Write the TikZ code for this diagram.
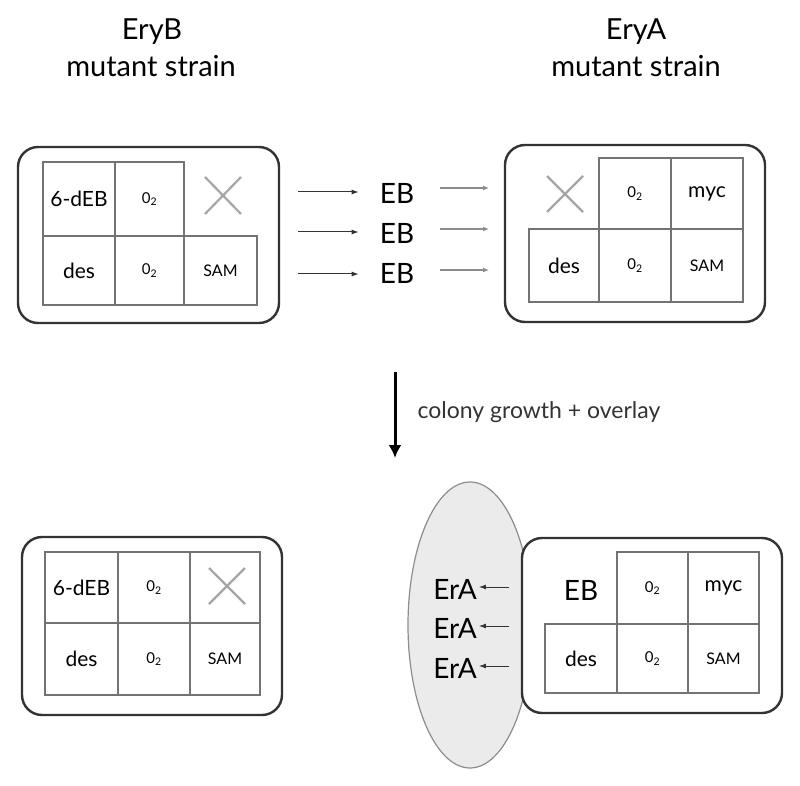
\documentclass[tikz,border=0pt]{standalone}
\usepackage{fontspec}
\setmainfont{Lato}
\usetikzlibrary{arrows.meta,shapes.geometric}
\begin{document}
\begin{tikzpicture}[x=1pt,y=-1pt,
  outer/.style={draw=black!80, line width=2.4pt, rounded corners=20pt, fill=white},
  cell/.style={draw=black!55, line width=1.5pt, inner sep=0pt, align=center},
  title/.style={font=\fontsize{29}{32}\selectfont, anchor=base},
  eb/.style={font=\fontsize{28}{30}\selectfont, inner sep=2pt},
  xmark/.style={draw=black!35, line width=2.2pt},
  arr/.style={draw=black!80, line width=1pt, -{Latex[length=7pt,width=5pt]}},
  garr/.style={draw=black!45, line width=2pt, -{Latex[length=6pt,width=5pt]}},
  down/.style={draw=black, line width=3pt, -{Latex[length=13pt,width=13pt]}},
  colony/.style={ellipse, draw=black!45, line width=1.2pt, fill=black!8, minimum width=124, minimum height=286, inner sep=0pt}
]
\useasboundingbox (0,0) rectangle (800,786);
\def\oh{0\textsubscript{2}}

% titles
\node[title] (tB) at (152,40) {EryB};
\node[title] (tBm) at (151,77) {mutant strain};
\node[title] (tA) at (636,40) {EryA};
\node[title] (tAm) at (636,77) {mutant strain};

% ---------- top left: EryB mutant ----------
\draw[outer] (18,147) rectangle (279,323);
\node[cell, minimum width=72, minimum height=74] (a11) at (79,199) {\fontsize{21}{22}\selectfont 6-dEB};
\node[cell, minimum width=69, minimum height=74] (a12) at (149.5,199) {\fontsize{15}{16}\selectfont\oh};
\node[cell, minimum width=72, minimum height=69] (a21) at (79,270.5) {\fontsize{21}{22}\selectfont des};
\node[cell, minimum width=69, minimum height=69] (a22) at (149.5,270.5) {\fontsize{15}{16}\selectfont\oh};
\node[cell, minimum width=73, minimum height=69] (a23) at (220.5,270.5) {\fontsize{16}{18}\selectfont SAM};
\draw[xmark] (205,177) -- (241,214) (205,214) -- (241,177);

% ---------- top right: EryA mutant ----------
\draw[outer] (505,145) rectangle (765,322);
\node[cell, minimum width=72, minimum height=71] (b12) at (635,193.5) {\fontsize{15}{16}\selectfont\oh};
\node[cell, minimum width=72, minimum height=71] (b13) at (707,193.5) {\fontsize{21}{22}\selectfont myc};
\node[cell, minimum width=70, minimum height=73] (b21) at (564,265.5) {\fontsize{21}{22}\selectfont des};
\node[cell, minimum width=72, minimum height=73] (b22) at (635,265.5) {\fontsize{15}{16}\selectfont\oh};
\node[cell, minimum width=72, minimum height=73] (b23) at (707,265.5) {\fontsize{16}{18}\selectfont SAM};
\draw[xmark] (547,176) -- (583,212) (547,212) -- (583,176);

% ---------- middle EB transfer ----------
\node[eb] (eb1) at (397,193) {EB};
\node[eb] (eb2) at (397,233) {EB};
\node[eb] (eb3) at (397,273) {EB};
\coordinate (la1) at (298,192);
\coordinate (la2) at (298,232);
\coordinate (la3) at (298,274);
\draw[arr, shorten >=19pt] (la1) -- (eb1.west |- la1);
\draw[arr, shorten >=19pt] (la2) -- (eb2.west |- la2);
\draw[arr, shorten >=19pt] (la3) -- (eb3.west |- la3);
\coordinate (rt1) at (440,188); \coordinate (rh1) at (489,188);
\coordinate (rt2) at (440,229); \coordinate (rh2) at (489,229);
\coordinate (rt3) at (440,270); \coordinate (rh3) at (489,270);
\draw[garr] (rt1) -- (rh1);
\draw[garr] (rt2) -- (rh2);
\draw[garr] (rt3) -- (rh3);

% ---------- down arrow ----------
\coordinate (d1) at (395,372);
\coordinate (d2) at (395,458);
\draw[down] (d1) -- (d2);
\node[anchor=west, font=\fontsize{23}{25}\selectfont, text=black!80] (lab) at (414,412) {colony growth + overlay};

% ---------- bottom left ----------
\draw[outer] (22,537) rectangle (282,715);
\node[cell, minimum width=73, minimum height=71] (c11) at (81.5,587.5) {\fontsize{21}{22}\selectfont 6-dEB};
\node[cell, minimum width=72, minimum height=71] (c12) at (154,587.5) {\fontsize{15}{16}\selectfont\oh};
\node[cell, minimum width=70, minimum height=71] (c13) at (225,587.5) {};
\node[cell, minimum width=73, minimum height=72] (c21) at (81.5,659) {\fontsize{21}{22}\selectfont des};
\node[cell, minimum width=72, minimum height=72] (c22) at (154,659) {\fontsize{15}{16}\selectfont\oh};
\node[cell, minimum width=70, minimum height=72] (c23) at (225,659) {\fontsize{16}{18}\selectfont SAM};
\draw[xmark] (209,568) -- (245,604) (209,604) -- (245,568);

% ---------- bottom right ----------
\node[colony] (col) at (470,625) {};
\draw[outer] (522,538) rectangle (782,713);
\node[eb] (eb4) at (581,590) {EB};
\node[cell, minimum width=71, minimum height=72] (d12) at (652.5,588) {\fontsize{15}{16}\selectfont\oh};
\node[cell, minimum width=71, minimum height=72] (d13) at (723.5,588) {\fontsize{21}{22}\selectfont myc};
\node[cell, minimum width=72, minimum height=69] (d21) at (581,658.5) {\fontsize{21}{22}\selectfont des};
\node[cell, minimum width=71, minimum height=69] (d22) at (652.5,658.5) {\fontsize{15}{16}\selectfont\oh};
\node[cell, minimum width=71, minimum height=69] (d23) at (723.5,658.5) {\fontsize{16}{18}\selectfont SAM};

\node[eb] (e1) at (455,589) {ErA};
\node[eb] (e2) at (455,628) {ErA};
\node[eb] (e3) at (455,668) {ErA};
\coordinate (ea1) at (509,587);
\coordinate (ea2) at (509,626);
\coordinate (ea3) at (509,666);
\draw[arr] (ea1) -- (e1.east |- ea1);
\draw[arr] (ea2) -- (e2.east |- ea2);
\draw[arr] (ea3) -- (e3.east |- ea3);
\end{tikzpicture}
\end{document}
